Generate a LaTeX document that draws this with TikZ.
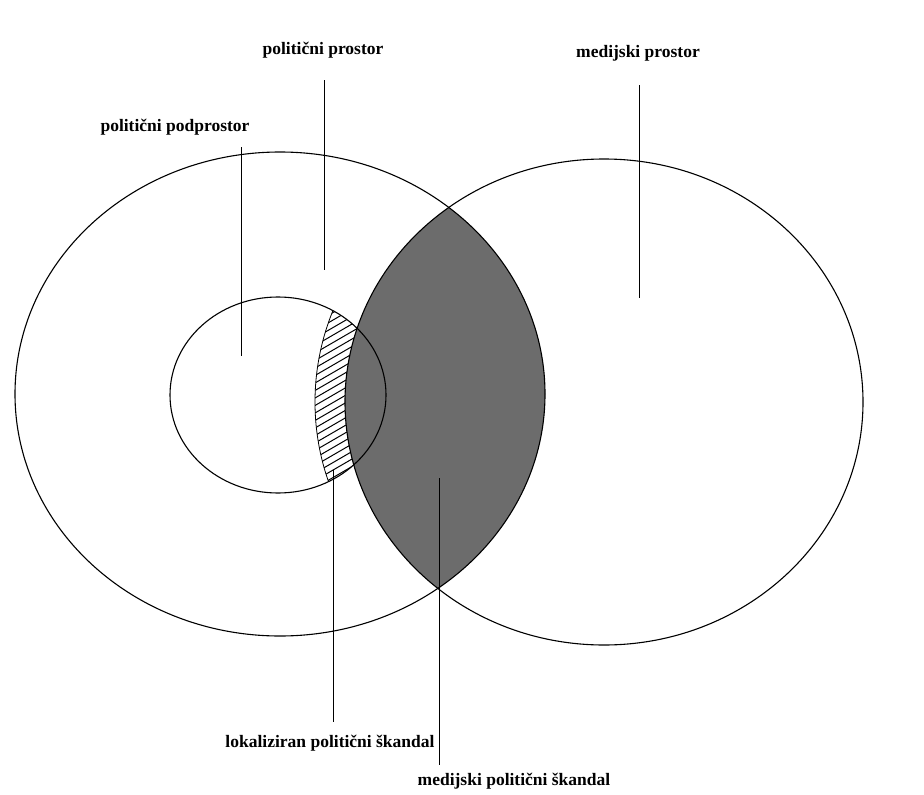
\documentclass[tikz,border=0pt]{standalone}
\usepackage{fontspec}
\setmainfont{Liberation Serif}
\definecolor{lensgray}{RGB}{108,108,108}

\begin{document}
\begin{tikzpicture}[x=1pt, y=-1pt,
		outline/.style={draw=black, line width=1.1pt},
		leader/.style={draw=black, line width=1pt},
		hatchline/.style={draw=black, line width=1pt},
		tag/.style={font=\fontsize{17.5}{20}\selectfont\bfseries, inner sep=0pt, anchor=base}
	]
	\useasboundingbox[fill=white] (0,0) rectangle (924,795);

	% centres of the spaces
	\coordinate (polc) at (280,394);
	\coordinate (medc) at (604,402);
	\coordinate (subc) at (278,395);

	% hatched strip (localised scandal)
	\begin{scope}
		\clip (subc) ellipse [x radius=108, y radius=98];
		\clip (medc) ellipse [x radius=289, y radius=263];
		\foreach \k in {0,...,40}
			\draw[hatchline] (290,270+7.5*\k) -- (390,212+7.5*\k);
	\end{scope}
	\begin{scope}
		\clip (subc) ellipse [x radius=108, y radius=98];
		\draw[line width=0.8pt] (medc) ellipse [x radius=289, y radius=263];
	\end{scope}

	% grey lens (media scandal)
	\begin{scope}
		\clip (polc) ellipse [x radius=265, y radius=242];
		\fill[lensgray] (medc) ellipse [x radius=259, y radius=243];
	\end{scope}

	% outlines
	\draw[outline] (polc) ellipse [x radius=265, y radius=242];
	\draw[outline] (medc) ellipse [x radius=259, y radius=243];
	\draw[outline] (subc) ellipse [x radius=108, y radius=98];

	% labels
	\node[tag] (polspace) at (323,54) {politični prostor};
	\node[tag] (medspace) at (638,57) {medijski prostor};
	\node[tag] (subspace) at (175,131) {politični podprostor};
	\node[tag] (localsc) at (330,747) {lokaliziran politični škandal};
	\node[tag] (medsc) at (514,785) {medijski politični škandal};

	% leader lines
	\coordinate (polspace-a) at (324,80);   \coordinate (polspace-b) at (324,270);
	\coordinate (medspace-a) at (639,85);   \coordinate (medspace-b) at (639,298);
	\coordinate (subspace-a) at (241,147);  \coordinate (subspace-b) at (241,356);
	\coordinate (localsc-a) at (333,470);   \coordinate (localsc-b) at (333,722);
	\coordinate (medsc-a) at (439,478);     \coordinate (medsc-b) at (439,765);
	\draw[leader] (polspace-a) -- (polspace-b);
	\draw[leader] (medspace-a) -- (medspace-b);
	\draw[leader] (subspace-a) -- (subspace-b);
	\draw[leader] (localsc-a) -- (localsc-b);
	\draw[leader] (medsc-a) -- (medsc-b);
\end{tikzpicture}
\end{document}
